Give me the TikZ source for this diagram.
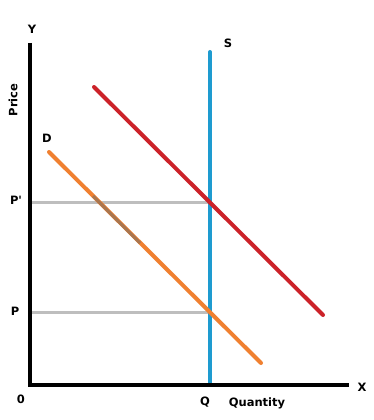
\documentclass[tikz,border=0pt]{standalone}
\usepackage{fontspec}
\setmainfont{DejaVu Sans}
\definecolor{redline}{HTML}{CC2229}
\definecolor{orangeline}{HTML}{F08030}
\definecolor{blueline}{HTML}{1E9BD0}
\definecolor{grayline}{HTML}{BEBEBE}
\definecolor{brownline}{HTML}{A87650}
\begin{document}
\begin{tikzpicture}[x=1pt,y=-1pt,
  lbl/.style={font=\fontsize{11.5}{13}\selectfont\bfseries, inner sep=0pt},
  axis/.style={line width=3.5pt},
  curve/.style={line width=4pt, line cap=round},
  guide/.style={line width=3pt, grayline}]
\useasboundingbox[fill=white] (0,0) rectangle (374,420);
% coordinates
\coordinate (O) at (30,385);
\coordinate (Ytop) at (30,43);
\coordinate (Xend) at (349,385);
\coordinate (Stop) at (210,52);
\coordinate (Sbot) at (210,385);
\coordinate (Pp) at (30,202);
\coordinate (Ppi) at (210,202);
\coordinate (P0) at (30,312);
\coordinate (Pi) at (210,312);
\coordinate (R1) at (94,87);
\coordinate (R2) at (323,315);
\coordinate (D1) at (49,152);
\coordinate (D2) at (261,363);
\coordinate (B1) at (93,196);
\coordinate (B2) at (140,243);
% guides
\draw[guide] (Pp) -- (Ppi);
\draw[guide] (P0) -- (Pi);
% curves
\draw[curve, blueline, line cap=butt] (Sbot) -- (Stop);
\draw[curve, blueline] (Stop) -- ++(0,0.1);
\draw[curve, redline] (R1) -- (R2);
\draw[curve, orangeline] (D1) -- (D2);
\draw[line width=3pt, brownline] (B1) -- (B2);
% axes
\draw[axis] (Ytop) -- (30,386.75);
\draw[axis] (28.25,385) -- (Xend);
% labels
\node[lbl] (ylab) at (32,29) {Y};
\node[lbl] (xlab) at (362,387) {X};
\node[lbl] (zero) at (21,399) {0};
\node[lbl] (qlab) at (205,402) {Q};
\node[lbl] (qty) at (257,403) {Quantity};
\node[lbl] (pplab) at (16,200) {P\textquotesingle};
\node[lbl] (plab) at (15,311) {P};
\node[lbl, rotate=90] (price) at (13,100) {Price};
\node[lbl] (dlab) at (47,138) {D};
\node[lbl] (slab) at (228,43) {S};
\end{tikzpicture}
\end{document}
